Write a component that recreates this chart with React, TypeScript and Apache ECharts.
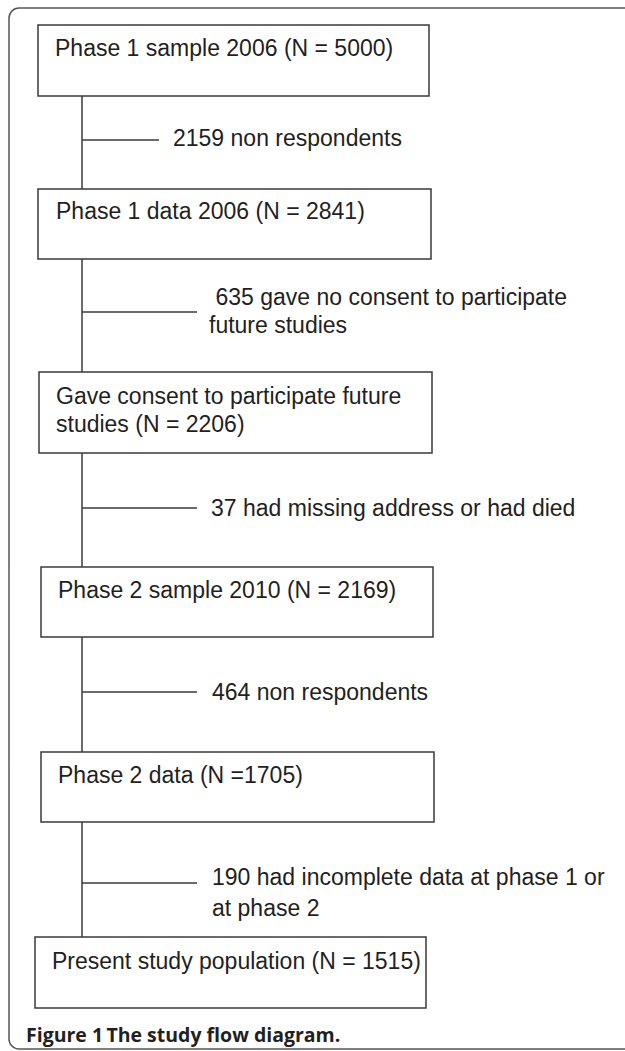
import React, { useEffect, useRef } from "react";
import * as echarts from "echarts";

// ---- Content (data) ----
const boxLabels: string[][] = [
  ["Phase 1 sample 2006 (N = 5000)"],
  ["Phase 1 data 2006 (N = 2841)"],
  ["Gave consent to participate future", "studies (N = 2206)"],
  ["Phase 2 sample 2010 (N = 2169)"],
  ["Phase 2 data (N =1705)"],
  ["Present study population (N = 1515)"],
];
const exclusionLabels: string[][] = [
  ["2159 non respondents"],
  [" 635 gave no consent to participate", "future studies"],
  ["37 had missing address or had died"],
  ["464 non respondents"],
  ["190 had incomplete data at phase 1 or", "at phase 2"],
];
const captionBold = "Figure 1";
const captionTitle = "The study flow diagram.";

// ---- Layout (positions / sizes) ----
const boxX = [38, 38, 39, 41, 41, 35];
const boxTop = [25, 189, 372, 567, 752, 937];
const boxRight = [429, 431, 432, 433, 434, 426];
const boxBottom = [96, 259, 453, 637, 822, 1008];
const boxTextX = [55, 56, 56, 58, 58, 52];
const boxTextY = [48, 211, 396, 590, 775, 961];
const lineGap = 28;
const trunkX = 82;
const branchY = [140, 312, 508, 692, 883];
const branchEnd = [159, 197, 197, 197, 197];
const exclTextX = [173, 209, 211, 212, 212];
const exclTextY = [138, 297, 508, 692, 877];
const exclLineGap = [0, 28, 0, 0, 31];

const INK = "#231f20";
const LINE = "#3a3a3a";
const FONT = "Liberation Sans";

export default function App() {
  const ref = useRef<HTMLDivElement>(null);
  useEffect(() => {
    if (!ref.current) return;
    const chart = echarts.init(ref.current, null, { renderer: "svg" });
    const els: any[] = [];
    // outer frame (right side runs off the page)
    els.push({
      type: "rect",
      shape: { x: 9, y: 8, width: 680, height: 1041, r: 10 },
      style: { fill: "none", stroke: "#555", lineWidth: 1.5 },
    });
    boxLabels.forEach((lines, i) => {
      els.push({
        type: "rect",
        shape: {
          x: boxX[i],
          y: boxTop[i],
          width: boxRight[i] - boxX[i],
          height: boxBottom[i] - boxTop[i],
        },
        style: { fill: "#fff", stroke: LINE, lineWidth: 1.5 },
      });
      lines.forEach((t, j) => {
        els.push({
          type: "text",
          x: boxTextX[i],
          y: boxTextY[i] + j * lineGap,
          style: {
            text: t,
            fill: INK,
            fontFamily: FONT,
            fontSize: 23,
            align: "left",
            verticalAlign: "middle",
          },
        });
      });
      if (i < boxLabels.length - 1) {
        els.push({
          type: "line",
          shape: { x1: trunkX, y1: boxBottom[i], x2: trunkX, y2: boxTop[i + 1] },
          style: { stroke: LINE, lineWidth: 1.5 },
        });
      }
    });
    exclusionLabels.forEach((lines, i) => {
      els.push({
        type: "line",
        shape: { x1: trunkX, y1: branchY[i], x2: branchEnd[i], y2: branchY[i] },
        style: { stroke: LINE, lineWidth: 1.5 },
      });
      lines.forEach((t, j) => {
        els.push({
          type: "text",
          x: exclTextX[i],
          y: exclTextY[i] + j * exclLineGap[i],
          style: {
            text: t,
            fill: INK,
            fontFamily: FONT,
            fontSize: 23,
            align: "left",
            verticalAlign: "middle",
          },
        });
      });
    });
    els.push({
      type: "text",
      x: 26,
      y: 1034,
      style: {
        text: `{b|${captionBold}} {t|${captionTitle}}`,
        verticalAlign: "middle",
        rich: {
          b: { fontFamily: "Open Sans", fontWeight: "bold", fontSize: 19.5, fill: INK },
          t: { fontFamily: "Open Sans", fontWeight: "bold", fontSize: 19.5, fill: INK },
        },
      },
    });
    chart.setOption({
      animation: false,
      backgroundColor: "#fff",
      graphic: { elements: els },
    });
    return () => chart.dispose();
  }, []);
  return (
    <div
      ref={ref}
      style={{ position: "fixed", left: 0, top: 0, width: 625, height: 1051, background: "#fff" }}
    />
  );
}
